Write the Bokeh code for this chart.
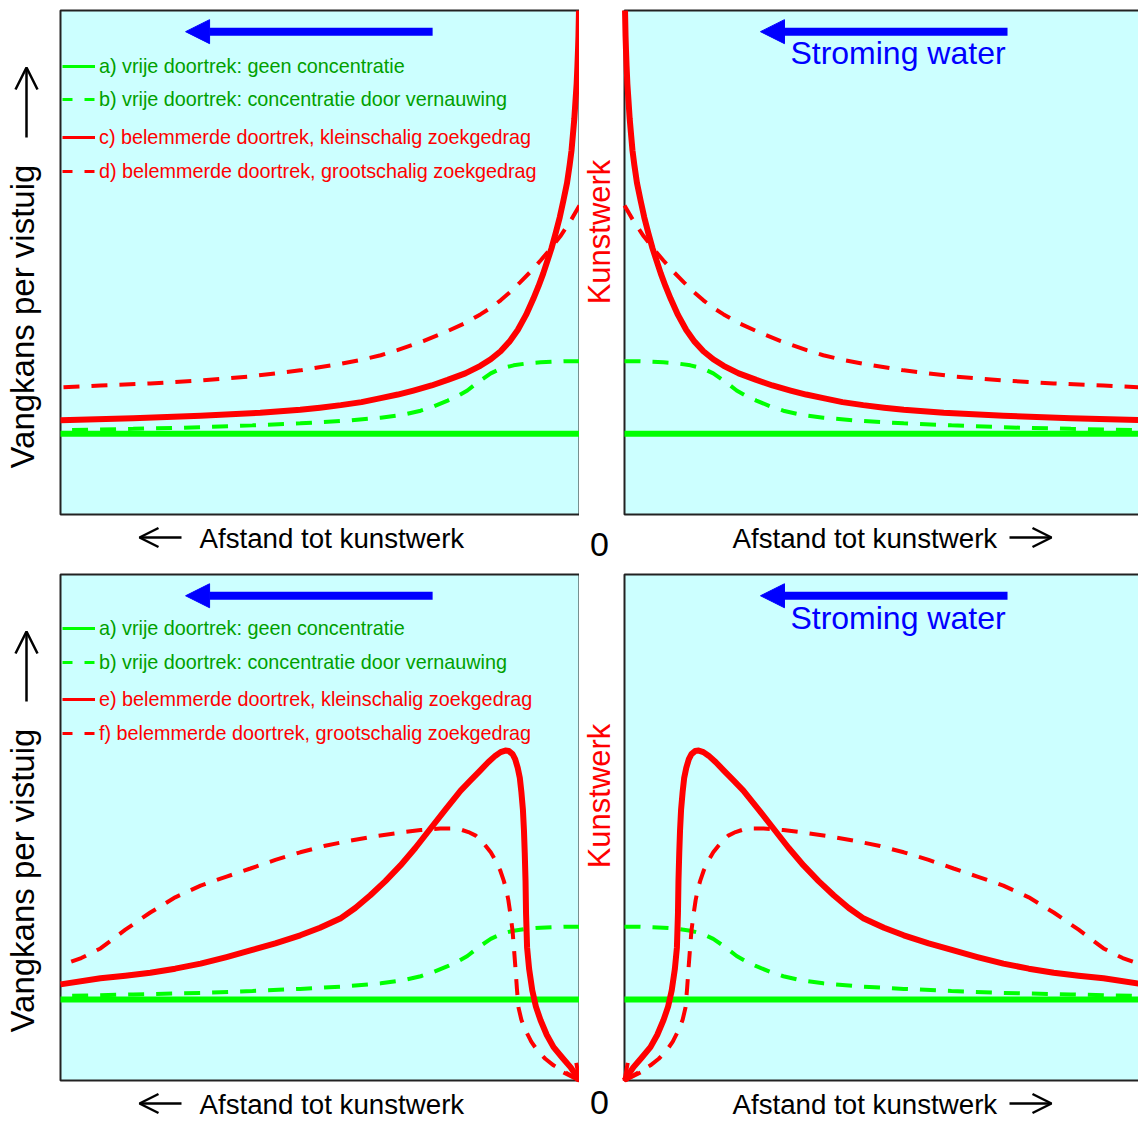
import math
from bokeh.plotting import figure
from bokeh.layouts import gridplot
from bokeh.models import Range1d, Label, Arrow, NormalHead, OpenHead, Legend, LegendItem
from bokeh.embed import file_html
from bokeh.resources import INLINE

FONT = "Liberation Sans"
GREEN = "#00ff00"
GREEN_TXT = "#00a000"
RED = "#ff0000"
BLUE = "#0000ff"
CYAN = "#ccffff"
EDGE = "#222222"

# ---- data: distance to the structure (0 = kunstwerk) and catch chance (0-100) ----
dist_a = [0, 100]
val_a = [16.0, 16.0]

dist_b = [0, 3, 7.5, 10, 12.7, 15, 17.1, 19.5, 21.6, 23.5, 25.4, 28, 30.6, 34, 38.3, 45, 53.8, 63, 73, 86, 100]
val_b = [30.4, 30.4, 30.2, 30.0, 29.6, 29.0, 28.0, 26.3, 24.6, 23.5, 22.6, 21.5, 20.6, 19.8, 19.2, 18.6, 18.1, 17.7, 17.3, 17.0, 16.7]

dist_c = [0.1, 0.2, 0.29, 0.4, 0.55, 0.77, 1.0, 1.3, 1.54, 1.9, 2.4, 3.1, 3.8, 4.6, 5.4, 6.2, 7.0, 7.9, 8.9,
          10.3, 11.9, 13.5, 15.2, 17.1, 19.1, 22, 25.4, 28.5, 32, 35, 38.3, 42, 46, 50, 53.8, 61.5, 73, 86, 100]
val_c = [100, 95.0, 92.1, 89.0, 85.5, 82.1, 78.5, 75.0, 72.2, 69.3, 65.8, 62.3, 59.0, 55.8, 52.8, 50.3, 47.8, 45.3, 42.8,
         39.6, 36.6, 34.3, 32.4, 30.8, 29.5, 28.0, 26.7, 25.6, 24.6, 23.8, 23.1, 22.3, 21.7, 21.2, 20.8, 20.2, 19.6, 19.1, 18.7]

dist_d = [0, 1.7, 3.7, 5.6, 7.5, 9.5, 11.4, 13.3, 15.2, 17.1, 19.1, 22, 25.4, 30.1, 35.1, 38.3, 42, 46.1, 53.8, 63.4, 73, 82.7, 92.3, 100]
val_d = [61.3, 58.3, 55.2, 52.7, 50.4, 48.1, 46.1, 44.2, 42.5, 41.0, 39.7, 38.0, 36.4, 34.4, 32.6, 31.6, 30.7, 29.9, 28.6, 27.4, 26.6, 26.0, 25.6, 25.2]

dist_e = [0, 1.7, 3.3, 5.0, 6.3, 7.5, 8.4, 9.1, 9.7, 10.1, 10.3, 10.4, 10.55, 10.7, 10.9, 11.2, 11.5, 11.9, 12.4, 12.9,
          13.6, 14.3, 15.2, 16.2, 17.6, 19.1, 21, 22.9, 25.8, 28.7, 31.6, 34.5, 37.4, 40.3, 43.2, 46.1, 50, 53.8,
          58.6, 63.4, 68, 73, 77.9, 82.7, 87.5, 92.3, 100]
val_e = [0, 2.6, 4.5, 6.6, 9.0, 11.9, 14.6, 17.8, 22.0, 26.3, 33.0, 39.5, 45.0, 49.4, 53.5, 57.0, 59.8, 61.8, 63.5, 64.5,
         65.1, 65.2, 64.9, 64.2, 62.9, 61.3, 59.3, 57.3, 53.6, 49.8, 46.0, 42.5, 39.4, 36.6, 34.1, 32.0, 30.2, 28.7,
         27.1, 25.7, 24.4, 23.1, 22.1, 21.3, 20.7, 20.2, 19.0]

dist_f = [0, 2.5, 5.0, 6.6, 8.1, 9.3, 10.4, 11.2, 11.75, 12.05, 12.3, 12.6, 12.9, 13.3, 13.7, 14.1, 14.6, 15.3, 16.2,
          17.1, 18.1, 19.0, 20.0, 21.4, 22.9, 24.8, 26.8, 30.6, 34.5, 39.3, 44.1, 49, 53.8, 58.6, 63.4, 68, 73,
          77.9, 82.7, 87.5, 92.3, 96, 100]
val_f = [0, 1.5, 3.0, 4.3, 5.9, 7.7, 9.9, 12.0, 14.4, 18.0, 21.7, 25.7, 29.6, 32.8, 35.6, 37.7, 39.5, 41.6, 43.5,
         45.1, 46.4, 47.5, 48.4, 49.1, 49.6, 49.8, 49.8, 49.5, 49.0, 48.3, 47.4, 46.4, 45.1, 43.6, 41.9, 40.3, 38.5,
         36.2, 33.2, 29.8, 26.1, 24.2, 22.7]

labels_top = ["a) vrije doortrek: geen concentratie",
              "b) vrije doortrek: concentratie door vernauwing",
              "c) belemmerde doortrek, kleinschalig zoekgedrag",
              "d) belemmerde doortrek, grootschalig zoekgedrag"]
labels_bottom = ["a) vrije doortrek: geen concentratie",
                 "b) vrije doortrek: concentratie door vernauwing",
                 "e) belemmerde doortrek, kleinschalig zoekgedrag",
                 "f) belemmerde doortrek, grootschalig zoekgedrag"]

x_label = "Afstand tot kunstwerk"
y_label = "Vangkans per vistuig"
struct_label = "Kunstwerk"
flow_label = "Stroming water"
zero_label = "0"

# flow arrow (distance units) and its caption
flow_left = (28.3, 75.9)
flow_right = (73.8, 26.2)
flow_y = 95.8
flow_text_x = 52.7
flow_text_y = 91.5

# ---- layout (page pixels) ----
PX_X = 5.19                      # pixels per distance unit
PX_Y = {0: 5.04, 1: 5.06}        # pixels per catch-chance unit
PANEL_BOTTOM = {0: 514, 1: 1080}
ROW_SHIFT = {0: 0, 1: 564}
CANVAS_Y = {0: (0, 572), 1: (572, 1122)}
CANVAS_X = {"L": (0, 579), "R": (579, 1138)}
EDGE_X = {"L": 579, "R": 624}    # page x of the structure

SOLID_W = 6
DASH_W = 4
DASH = "16 12"


def dx(side, X):
    return (EDGE_X["L"] - X) / PX_X if side == "L" else (X - EDGE_X["R"]) / PX_X


def vy(row, Y):
    return (PANEL_BOTTOM[row] - Y) / PX_Y[row]


def make_fig(side, row):
    x0, x1 = CANVAS_X[side]
    y0, y1 = CANVAS_Y[row]
    p = figure(width=x1 - x0, height=y1 - y0,
               x_range=Range1d(dx(side, x0), dx(side, x1)),
               y_range=Range1d(vy(row, y1), vy(row, y0)),
               output_backend="svg", toolbar_location=None,
               x_axis_location=None, y_axis_location=None,
               min_border=0, min_border_left=0, min_border_right=0, min_border_top=0, min_border_bottom=0,
               background_fill_color="white", border_fill_color="white", outline_line_color=None)
    p.grid.visible = False
    # plotting area: distance 0-100, catch chance 0-100
    p.quad(left=[0], right=[100], bottom=[0], top=[100], fill_color=CYAN, line_color=EDGE, line_width=2)
    return p


def add_curves(p, row):
    p.line(dist_a, val_a, line_color=GREEN, line_width=SOLID_W)
    p.line(dist_b, val_b, line_color=GREEN, line_width=DASH_W, line_dash=DASH)
    if row == 0:
        p.line(dist_d, val_d, line_color=RED, line_width=DASH_W, line_dash=DASH)
        p.line(dist_c, val_c, line_color=RED, line_width=SOLID_W, line_join="round")
    else:
        p.line(dist_f, val_f, line_color=RED, line_width=DASH_W, line_dash=DASH)
        p.line(dist_e, val_e, line_color=RED, line_width=SOLID_W, line_join="round")
        p.add_layout(Arrow(x_start=dist_e[2], y_start=val_e[2], x_end=dist_e[0], y_end=val_e[0],
                           line_alpha=0,
                           end=OpenHead(size=16, line_color=RED, line_width=4)))


def add_legend(p, row):
    labels = labels_top if row == 0 else labels_bottom
    far = [1000, 1001]
    ra = p.line(far, far, line_color=GREEN, line_width=3)
    rb = p.line(far, far, line_color=GREEN, line_width=3, line_dash="10 12")
    rc = p.line(far, far, line_color=RED, line_width=3)
    rd = p.line(far, far, line_color=RED, line_width=3, line_dash="10 12")
    sh = ROW_SHIFT[row]
    cb = CANVAS_Y[row][1]
    if row == 0:
        g_bot, r_bot, g_sp, r_sp = 111, 183, 9, 10
    else:
        g_bot, r_bot, g_sp, r_sp = 674 - sh, 745 - sh, 10, 10
    for items, color, bottom, sp in (([(labels[0], ra), (labels[1], rb)], GREEN_TXT, g_bot, g_sp),
                                     ([(labels[2], rc), (labels[3], rd)], RED, r_bot, r_sp)):
        lg = Legend(items=[LegendItem(label=t, renderers=[r]) for t, r in items],
                    location=(62, cb - (bottom + sh)), orientation="vertical",
                    glyph_width=33, glyph_height=24, label_height=24, label_standoff=4,
                    spacing=sp, padding=0, margin=0,
                    border_line_alpha=0, background_fill_alpha=0,
                    label_text_font=FONT, label_text_font_size="19.8px", label_text_color=color)
        p.add_layout(lg)


def txt(p, x, y, text, size, color="black", angle=0.0, align="left", baseline="alphabetic"):
    p.add_layout(Label(x=x, y=y, text=text, angle=angle,
                       text_font=FONT, text_font_size=size, text_color=color,
                       text_align=align, text_baseline=baseline))


def black_arrow(p, x0, y0, x1, y1, size):
    p.add_layout(Arrow(x_start=x0, y_start=y0, x_end=x1, y_end=y1,
                       line_color="black", line_width=2.5,
                       end=OpenHead(size=size, line_color="black", line_width=2.5)))


figs = {}
for row in (0, 1):
    sh = ROW_SHIFT[row]
    lab_base = 538 if row == 0 else 1104      # text anchor of the distance labels
    arrow_y = 537 if row == 0 else 1103
    zero_base = 544 if row == 0 else 1102

    # ---- left panel ----
    pl = make_fig("L", row)
    add_curves(pl, row)
    add_legend(pl, row)
    pl.add_layout(Arrow(x_start=flow_left[0], y_start=flow_y, x_end=flow_left[1], y_end=flow_y,
                        line_color=BLUE, line_width=8,
                        end=NormalHead(size=24, fill_color=BLUE, line_color=BLUE, line_width=1)))
    txt(pl, dx("L", 199), vy(row, lab_base), x_label, "27.7px")
    black_arrow(pl, dx("L", 181), vy(row, arrow_y), dx("L", 139), vy(row, arrow_y), 19)
    txt(pl, dx("L", 22), vy(row, 468 + sh), y_label, "33px", angle=math.pi / 2)
    black_arrow(pl, dx("L", 26), vy(row, 137 + sh), dx("L", 26), vy(row, 67 + sh), 22)

    # ---- right panel ----
    pr = make_fig("R", row)
    add_curves(pr, row)
    pr.add_layout(Arrow(x_start=flow_right[0], y_start=flow_y, x_end=flow_right[1], y_end=flow_y,
                        line_color=BLUE, line_width=8,
                        end=NormalHead(size=24, fill_color=BLUE, line_color=BLUE, line_width=1)))
    txt(pr, flow_text_x, flow_text_y, flow_label, "32px", color=BLUE, align="center")
    txt(pr, dx("R", 732), vy(row, lab_base), x_label, "27.7px")
    black_arrow(pr, dx("R", 1009), vy(row, arrow_y), dx("R", 1051), vy(row, arrow_y), 19)
    txt(pr, dx("R", 599), vy(row, zero_base), zero_label, "34px", align="center")
    txt(pr, dx("R", 598.5), vy(row, 231.5 + sh), struct_label, "31px", color=RED,
        angle=math.pi / 2, align="center")

    figs[row] = (pl, pr)

grid = gridplot([[figs[0][0], figs[0][1]], [figs[1][0], figs[1][1]]], toolbar_location=None)

open("out.html", "w").write(file_html(grid, INLINE))
